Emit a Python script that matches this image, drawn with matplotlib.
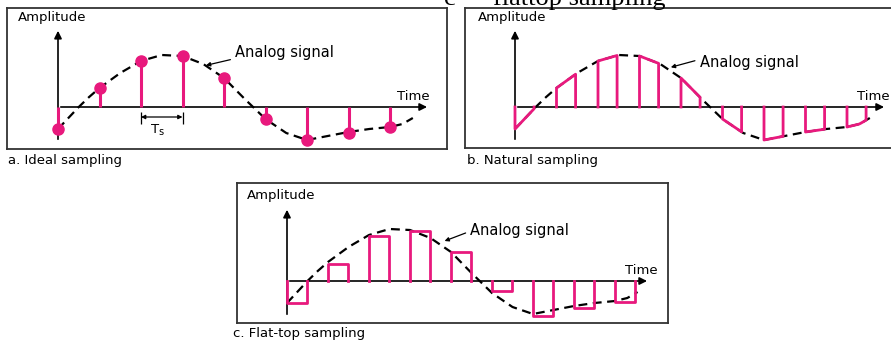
import numpy as np
import matplotlib
matplotlib.use("Agg")
import matplotlib.pyplot as plt

# analog signal (x in sample periods, y in amplitude px)
curve_t = [0, 0.25, 0.5, 0.75, 1.0, 1.5, 2.0, 2.5, 3.0, 3.5, 4.0, 4.5,
           5.0, 5.5, 6.0, 6.5, 7.0, 7.5, 8.0, 8.3, 8.55]
curve_amp = [-22, -11, 0, 10, 19, 34, 46, 52, 51, 43, 29, 8,
             -12, -26, -33, -29, -25, -22, -20, -17, -11]

# sample values
ideal_amp = [-22, 19, 46, 51, 29, -12, -33, -26, -20]
flat_amp = [-22, 17, 45, 50, 29, -10, -35, -27, -21]
sample_t = np.arange(9)

captions = ["a. Ideal sampling", "b. Natural sampling", "c. Flat-top sampling"]

W, H = 891, 341
PINK = "#e8197d"
fig = plt.figure(figsize=(W / 100, H / 100), dpi=100)


def panel(box, origin, step):
    # box = (left, top, right, bottom) in px, origin in px, step = px per sample
    l, t, r, b = box
    ax = fig.add_axes([l / W, 1 - b / H, (r - l) / W, (b - t) / H])
    ax.set_xlim((l - origin[0]) / step, (r - origin[0]) / step)
    ax.set_ylim(origin[1] - b, origin[1] - t)
    ax.set_xticks([])
    ax.set_yticks([])
    for s in ax.spines.values():
        s.set_color("#333333")
        s.set_linewidth(1.3)
    return ax


def common(ax, xend, ytop, ybot, time_t, amp_xy, sig_xy, arr_from, arr_to, cap_xy, caption):
    ax.annotate("", xy=(0, ytop), xytext=(0, ybot),
                arrowprops=dict(arrowstyle="-|>", color="k", lw=1.2, mutation_scale=11))
    ax.annotate("", xy=(xend, 0), xytext=(0, 0),
                arrowprops=dict(arrowstyle="-|>", color="k", lw=1.2, mutation_scale=11))
    ax.plot(curve_t, curve_amp, color="k", lw=1.6, ls=(0, (4, 2.5)), zorder=1)
    ax.text(amp_xy[0], amp_xy[1], "Amplitude", fontsize=9.5, va="center", ha="left")
    ax.text(time_t, 11, "Time", fontsize=9.5, va="center", ha="left", clip_on=False)
    ax.text(sig_xy[0], sig_xy[1], "Analog signal", fontsize=10.5, va="center", ha="left")
    ax.annotate("", xy=arr_to, xytext=arr_from,
                arrowprops=dict(arrowstyle="-|>", color="k", lw=0.9, mutation_scale=6))
    ax.text(cap_xy[0], cap_xy[1], caption, fontsize=9.5, va="center", ha="left", clip_on=False)


# a. ideal sampling
ax = panel((7, 8, 447, 149), (58, 107), 41.5)
common(ax, 8.96, 79, -35, 8.17, (-0.96, 89), (4.27, 55),
       (4.22, 48), (3.5, 41), (-1.2, -53), captions[0])
ax.vlines(sample_t, 0, ideal_amp, color=PINK, lw=2.2, zorder=3)
ax.plot(sample_t, ideal_amp, "o", color=PINK, ms=8, zorder=4)
ax.vlines([2, 3], -17, -5, color="k", lw=0.9)
ax.annotate("", xy=(2, -10), xytext=(3, -10),
            arrowprops=dict(arrowstyle="<|-|>", color="k", lw=0.9, mutation_scale=6, shrinkA=0, shrinkB=0))
ax.text(2.25, -22, "T", fontsize=9.5, va="center", ha="left")
ax.text(2.43, -25, "s", fontsize=7, va="center", ha="left")

# b. natural sampling
ax = panel((465, 8, 905, 148), (515, 107), 41.5)
common(ax, 8.96, 79, -35, 8.24, (-0.89, 89), (4.46, 44),
       (4.4, 47), (3.69, 39), (-1.16, -53), captions[1])
w = 0.46
for k in sample_t:
    xs = np.linspace(k, k + w, 12)
    ys = np.interp(xs, curve_t, curve_amp)
    ax.plot(np.r_[k, xs, k + w], np.r_[0, ys, 0], color=PINK, lw=2.0, zorder=3)

# c. flat-top sampling
ax = panel((237, 183, 668, 323), (287, 281), 41.0)
common(ax, 8.85, 74, -36, 8.24, (-0.98, 86), (4.46, 50),
       (4.42, 49), (3.78, 39), (-1.32, -52), captions[2])
w = 0.48
for k, a in zip(sample_t, flat_amp):
    ax.plot([k, k, k + w, k + w], [0, a, a, 0], color=PINK, lw=2.0, zorder=3)

# heading, clipped by the top edge as in the source picture
fig.text(444 / W, 1 - 5 / H, "c", fontsize=19, family="Liberation Serif", va="baseline")
fig.text(493 / W, 1 - 5 / H, "flattop sampling", fontsize=19, family="Liberation Serif", va="baseline")

fig.savefig("out.png", dpi=100)
